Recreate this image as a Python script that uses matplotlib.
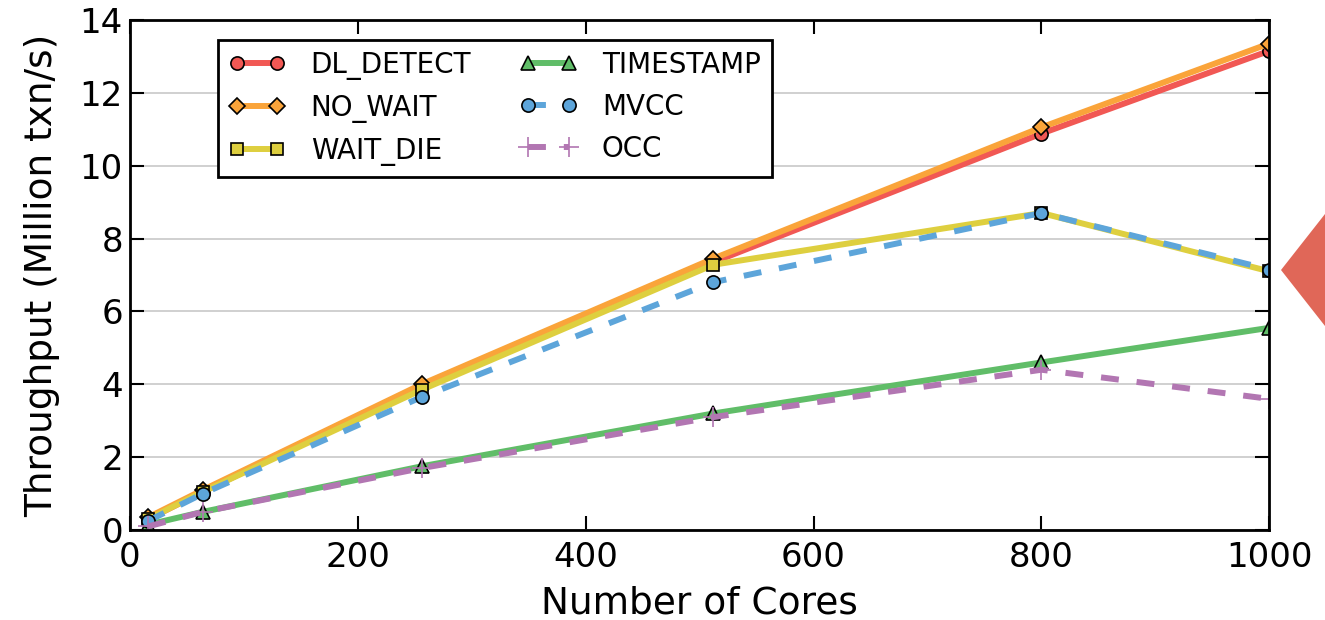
# Throughput vs core count for concurrency control schemes
import matplotlib.pyplot as plt
from matplotlib.patches import Polygon

cores = [16, 64, 256, 512, 800, 1000]

dl_detect = [0.30, 1.05, 3.95, 7.35, 10.88, 13.15]
no_wait = [0.35, 1.10, 4.00, 7.45, 11.05, 13.35]
wait_die = [0.30, 1.05, 3.85, 7.28, 8.70, 7.10]
timestamp = [0.15, 0.50, 1.75, 3.20, 4.60, 5.55]
mvcc = [0.25, 1.00, 3.65, 6.80, 8.70, 7.15]
occ = [0.10, 0.50, 1.70, 3.10, 4.40, 3.60]

plt.rcParams['font.family'] = 'DejaVu Sans'

fig = plt.figure(figsize=(13.25, 6.2), dpi=100)
ax = fig.add_axes([0.098, 0.145, 0.860, 0.823])

kw = dict(linewidth=4.3, markersize=9.5, markeredgecolor='black', markeredgewidth=1.2)
ax.plot(cores, dl_detect, color='#F15854', marker='o', label='DL_DETECT', **kw)
ax.plot(cores, no_wait, color='#FAA43A', marker='D', label='NO_WAIT', **dict(kw, markersize=8.5))
ax.plot(cores, wait_die, color='#DECF3F', marker='s', label='WAIT_DIE', **dict(kw, markersize=8.5))
ax.plot(cores, timestamp, color='#60BD68', marker='^', label='TIMESTAMP', **kw)
ax.plot(cores, mvcc, color='#5DA5DA', marker='o', linestyle='--', dashes=(3, 3), label='MVCC', **kw)
ax.plot(cores, occ, color='#B276B2', marker='+', linestyle='--', dashes=(3, 3), label='OCC',
        linewidth=4.3, markersize=15, markeredgecolor='#B276B2', markeredgewidth=1.2)

ax.set_xlim(0, 1000)
ax.set_ylim(0, 14)
ax.set_xticks([0, 200, 400, 600, 800, 1000])
ax.set_yticks(range(0, 15, 2))
ax.yaxis.grid(True, color='#c8c8c8', linewidth=1.2)
ax.set_axisbelow(True)
ax.tick_params(direction='in', length=10, width=1.5, top=True, right=True, labelsize=24.5)
ax.tick_params(axis='x', pad=8)
ax.tick_params(axis='y', pad=5)
for s in ax.spines.values():
    s.set_linewidth(2)
ax.set_xlabel('Number of Cores', fontsize=27, labelpad=8)
ax.set_ylabel('Throughput (Million txn/s)', fontsize=27, labelpad=14)

leg = ax.legend(loc='upper left', bbox_to_anchor=(0.077, 0.961), ncol=2, numpoints=2,
                fontsize=20, fancybox=False, framealpha=1, edgecolor='black',
                handlelength=2.05, columnspacing=1.76, handletextpad=0.9, borderpad=0.4,
                labelspacing=0.5, borderaxespad=0)
leg.get_frame().set_linewidth(2)

# red pointer shape at the right edge
w, h = fig.get_size_inches() * fig.dpi
tri = Polygon([(1281 / w, 1 - 270 / h), (1325 / w, 1 - 214 / h), (1325 / w, 1 - 326 / h)],
              closed=True, transform=fig.transFigure, facecolor='#E06758', edgecolor='none')
fig.patches.append(tri)

fig.savefig('out.png', dpi=100)
